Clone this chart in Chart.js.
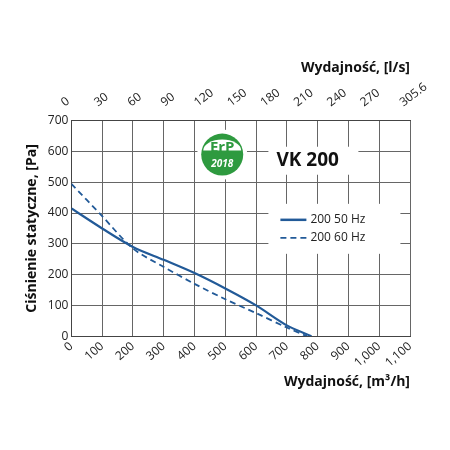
<!DOCTYPE html>
<html><head><script src="https://cdn.jsdelivr.net/npm/chart.js@4"></script>
<style>body{margin:0;background:#fff}</style></head>
<body><canvas id="c" width="450" height="450"></canvas>
<script>
const flow50 = [0,100,200,300,400,500,600,700,780];
const pres50 = [415,350,290,248,205,155,100,35,0];
const flow60 = [0,100,200,300,400,500,600,700,765];
const pres60 = [495,390,285,225,170,120,75,28,0];
const label50 = '200 50 Hz', label60 = '200 60 Hz';
const col = '#225a98';
const deco = {
  id:'deco',
  afterDraw(ch){
    const c = ch.ctx, x = ch.scales.x, y = ch.scales.y;
    c.save();
    const lx = x.getPixelForValue(640), ly = y.getPixelForValue(430);
    c.fillStyle='#fff'; c.fillRect(lx, ly, 132, 50);
    c.strokeStyle=col; c.lineWidth=2.5;
    c.beginPath(); c.moveTo(lx+12, ly+16); c.lineTo(lx+38, ly+16); c.stroke();
    c.setLineDash([6,4]); c.lineWidth=1.8;
    c.beginPath(); c.moveTo(lx+12, ly+34); c.lineTo(lx+38, ly+34); c.stroke();
    c.setLineDash([]);
    c.fillStyle='#222'; c.font='12px "Open Sans"'; c.textBaseline='middle';
    c.fillText(label50, lx+42, ly+16); c.fillText(label60, lx+42, ly+34);
    const vx = x.getPixelForValue(640), vy = y.getPixelForValue(570);
    c.fillStyle='#fff'; c.fillRect(vx, vy-14, 90, 28);
    c.fillStyle='#111'; c.font='bold 19px "Open Sans"'; c.fillText('VK 200', vx+8, vy);
    const cx = x.getPixelForValue(490), cy = y.getPixelForValue(590);
    c.fillStyle='#fff'; c.beginPath(); c.arc(cx, cy, 25, 0, 7); c.fill();
    c.fillStyle='#2e9a3f'; c.beginPath(); c.arc(cx, cy, 21, 0, 7); c.fill();
    c.fillStyle='#fff'; c.beginPath(); c.ellipse(cx, cy-4, 19, 11, 0, Math.PI, 0); c.fill();
    c.fillStyle='#2e9a3f'; c.font='bold 15px "Open Sans"'; c.textAlign='center';
    c.fillText('ErP', cx, cy-7);
    c.fillStyle='#fff'; c.font='bold italic 10px "Open Sans"'; c.fillText('2018', cx, cy+10);
    c.restore();
  }
};
new Chart(document.getElementById('c'), {
  type:'line',
  data:{datasets:[
    {label:label50, data:flow50.map((v,i)=>({x:v,y:pres50[i]})), borderColor:col, borderWidth:2.2, pointRadius:0, tension:0.3},
    {label:label60, data:flow60.map((v,i)=>({x:v,y:pres60[i]})), borderColor:col, borderWidth:1.8, borderDash:[6,4], pointRadius:0, tension:0.3}
  ]},
  options:{responsive:false, animation:false, devicePixelRatio:1,
    layout:{padding:{left:20,right:40,top:60,bottom:60}},
    plugins:{legend:{display:false}, tooltip:{enabled:false}},
    scales:{
      x:{type:'linear', min:0, max:1100, ticks:{stepSize:100, color:'#222', font:{size:12,family:'Open Sans'}},
         grid:{color:'#666', lineWidth:1, drawTicks:false}, border:{color:'#444'},
         title:{display:true, text:'Wydajność, [m³/h]', color:'#111', font:{size:14,weight:'bold',family:'Open Sans'}, align:'end', padding:0}},
      x2:{type:'linear', position:'top', min:0, max:305.6, ticks:{stepSize:30, color:'#222', font:{size:12,family:'Open Sans'}},
         grid:{display:false}, border:{color:'#444'},
         title:{display:true, text:'Wydajność, [l/s]', color:'#111', font:{size:14,weight:'bold',family:'Open Sans'}, align:'end', padding:0}},
      y:{min:0, max:700, ticks:{stepSize:100, color:'#222', font:{size:12,family:'Open Sans'}},
         grid:{color:'#666', lineWidth:1, drawTicks:false}, border:{color:'#444'},
         title:{display:true, text:'Ciśnienie statyczne, [Pa]', color:'#111', font:{size:14,weight:'bold',family:'Open Sans'}}}
    }},
  plugins:[deco]
});
</script>
</body></html>
